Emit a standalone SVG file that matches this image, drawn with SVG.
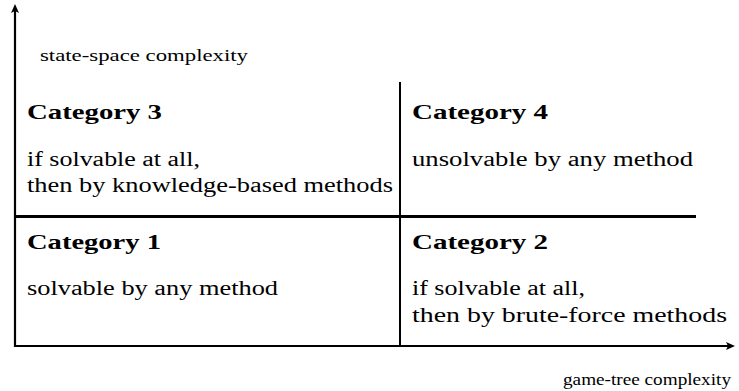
<svg xmlns="http://www.w3.org/2000/svg" width="739" height="391" viewBox="0 0 739 391" font-family="'Liberation Serif', 'DejaVu Serif', 'Times New Roman', serif">
  <style>
    .axis { stroke: #000; stroke-width: 2.2; fill: none; }
    .vdiv { stroke: #000; stroke-width: 2; fill: none; }
    .hdiv { stroke: #000; stroke-width: 3; fill: none; }
    .head { fill: #000; stroke: none; }
    text { font-family: 'Liberation Serif', 'DejaVu Serif', 'Times New Roman', serif; fill: #000; }
    .title { font-size: 21px; font-weight: bold; }
    .body { font-size: 20.5px; }
    .label { font-size: 16px; }
  </style>
  <defs>
    <!-- arrow tip pointing right, tip at origin -->
    <path id="tip" class="head" d="M0,0 L-9,-4 L-7,0 L-9,4 Z"/>
  </defs>
  <rect width="739" height="391" fill="#fff"/>

  <!-- axes and quadrant dividers -->
  <g id="connectors">
    <line class="axis" x1="15" y1="347" x2="15" y2="10"/>
    <use href="#tip" transform="translate(15,4) rotate(-90)"/>
    <line class="axis" x1="14" y1="346" x2="729" y2="346"/>
    <use href="#tip" transform="translate(735,346)"/>
    <line class="vdiv" x1="400" y1="82" x2="400" y2="346"/>
    <line class="hdiv" x1="15" y1="216.5" x2="696" y2="216.5"/>
  </g>

  <g id="axis-labels">
    <text class="label" x="40" y="61" textLength="208" lengthAdjust="spacingAndGlyphs">state-space complexity</text>
    <text class="label" x="563" y="385" textLength="168" lengthAdjust="spacingAndGlyphs">game-tree complexity</text>
  </g>

  <g id="category-3">
    <text class="title" x="27" y="119" textLength="135" lengthAdjust="spacingAndGlyphs">Category 3</text>
    <text class="body" x="27" y="166" textLength="173" lengthAdjust="spacingAndGlyphs">if solvable at all,</text>
    <text class="body" x="27" y="192" textLength="366" lengthAdjust="spacingAndGlyphs">then by knowledge-based methods</text>
  </g>

  <g id="category-4">
    <text class="title" x="412" y="119" textLength="136" lengthAdjust="spacingAndGlyphs">Category 4</text>
    <text class="body" x="412" y="166" textLength="281" lengthAdjust="spacingAndGlyphs">unsolvable by any method</text>
  </g>

  <g id="category-1">
    <text class="title" x="27" y="249" textLength="134" lengthAdjust="spacingAndGlyphs">Category 1</text>
    <text class="body" x="27" y="295" textLength="251" lengthAdjust="spacingAndGlyphs">solvable by any method</text>
  </g>

  <g id="category-2">
    <text class="title" x="412" y="249" textLength="136" lengthAdjust="spacingAndGlyphs">Category 2</text>
    <text class="body" x="412" y="295" textLength="173" lengthAdjust="spacingAndGlyphs">if solvable at all,</text>
    <text class="body" x="412" y="322" textLength="315" lengthAdjust="spacingAndGlyphs">then by brute-force methods</text>
  </g>
</svg>
